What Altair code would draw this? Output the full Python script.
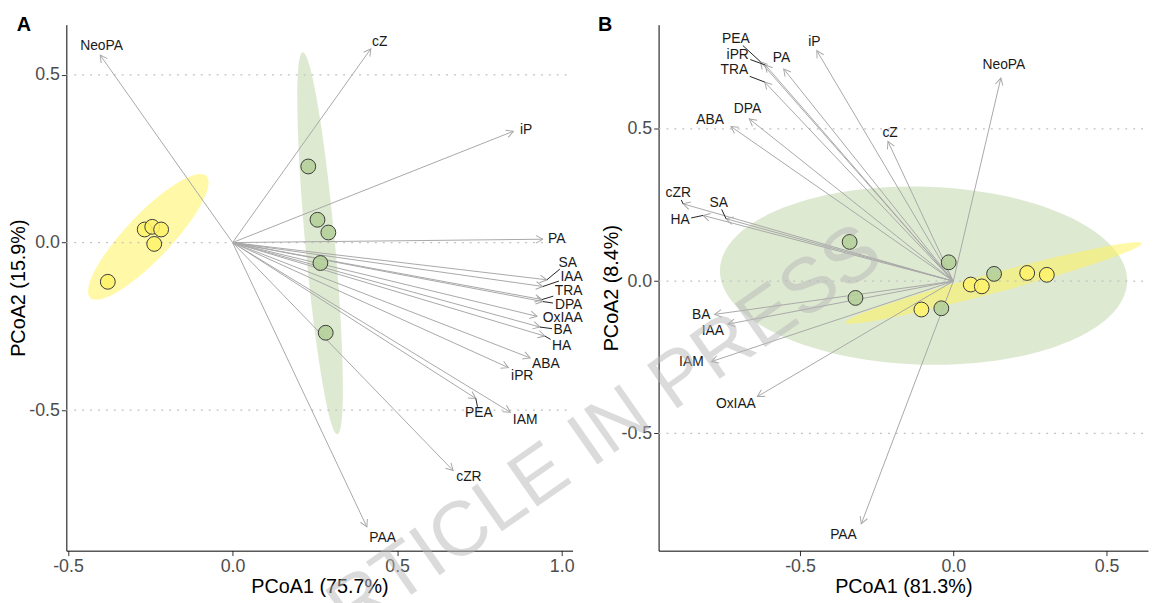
import math
import altair as alt
import pandas as pd

FONT = "Liberation Sans"

# ---------------- Panel A data ----------------
a_var = ["NeoPA", "cZ", "iP", "PA", "SA", "IAA", "TRA", "DPA", "OxIAA", "BA", "HA",
         "ABA", "iPR", "PEA", "IAM", "cZR", "PAA"]
a_tip_x = [-0.402, 0.420, 0.853, 0.943, 0.955, 0.943, 0.940, 0.943, 0.925, 0.934, 0.949,
           0.904, 0.838, 0.739, 0.844, 0.670, 0.408]
a_tip_y = [0.559, 0.578, 0.332, 0.010, -0.111, -0.131, -0.170, -0.176, -0.220, -0.252, -0.279,
           -0.344, -0.373, -0.465, -0.506, -0.680, -0.848]
a_lab_x = [-0.398, 0.447, 0.892, 0.985, 1.018, 1.030, 1.021, 1.021, 1.003, 1.003, 1.000,
           0.952, 0.880, 0.748, 0.889, 0.718, 0.456]
a_lab_y = [0.586, 0.597, 0.335, 0.010, -0.060, -0.102, -0.146, -0.187, -0.226, -0.261, -0.308,
           -0.361, -0.397, -0.509, -0.529, -0.698, -0.880]
a_leader = [0, 0, 0, 0, 1, 1, 1, 1, 0, 1, 1, 0, 0, 1, 0, 0, 0]

a_yellow_x = [-0.267, -0.244, -0.217, -0.238, -0.379]
a_yellow_y = [0.039, 0.047, 0.039, -0.004, -0.117]
a_green_x = [0.230, 0.258, 0.291, 0.267, 0.283]
a_green_y = [0.227, 0.068, 0.030, -0.061, -0.269]

# ellipse centres (data units)
a_ell_yellow = (-0.256, 0.017)
a_ell_green = (0.266, -0.002)

# ---------------- Panel B data ----------------
b_var = ["PEA", "iPR", "TRA", "PA", "iP", "DPA", "ABA", "NeoPA", "cZ", "cZR", "HA", "SA",
         "BA", "IAA", "IAM", "OxIAA", "PAA"]
b_tip_x = [-0.629, -0.613, -0.615, -0.553, -0.445, -0.665, -0.725, 0.155, -0.213, -0.881, -0.816,
           -0.741, -0.778, -0.735, -0.789, -0.639, -0.300]
b_tip_y = [0.721, 0.710, 0.654, 0.697, 0.757, 0.533, 0.508, 0.667, 0.459, 0.254, 0.216,
           0.205, -0.109, -0.141, -0.264, -0.379, -0.797]
b_lab_x = [-0.709, -0.703, -0.714, -0.560, -0.453, -0.671, -0.793, 0.165, -0.206, -0.897, -0.891,
           -0.765, -0.822, -0.784, -0.854, -0.709, -0.358]
b_lab_y = [0.795, 0.743, 0.692, 0.732, 0.787, 0.566, 0.528, 0.710, 0.485, 0.288, 0.200,
           0.257, -0.111, -0.163, -0.264, -0.404, -0.833]
b_leader = [1, 1, 1, 0, 0, 0, 0, 0, 0, 1, 1, 1, 0, 0, 0, 0, 0]

b_green_x = [-0.338, -0.015, 0.133, -0.319, -0.039]
b_green_y = [0.129, 0.062, 0.024, -0.055, -0.089]
b_yellow_x = [0.057, 0.093, 0.241, 0.305, -0.104]
b_yellow_y = [-0.011, -0.017, 0.027, 0.021, -0.093]

b_ell_green = (-0.097, 0.018)
b_ell_yellow = (0.132, -0.006)

grid_vals = [-0.5, 0.0, 0.5]
a_xticks = [-0.5, 0.0, 0.5, 1.0]
b_xticks = [-0.5, 0.0, 0.5]
yticks = [-0.5, 0.0, 0.5]
letters = ["A", "B"]
watermark = ["ARTICLE IN PRESS"]

# ---------------- styling / geometry ----------------
A_W, A_H = 512, 532
A_XD, A_YD = [-0.505, 1.033], [-0.919, 0.650]
B_W, B_H = 495, 532
B_XD, B_YD = [-0.961, 0.635], [-0.885, 0.8425]

YEL_PT, GRN_PT = "#FFF36B", "#B4CF98"
YEL_EL, GRN_EL = "#FFF44F", "#B5CE98"
ARROW = "#a8a8a8"
TXT = "#1a1a1a"

CW = {"A": .667, "B": .667, "C": .722, "D": .722, "E": .667, "H": .722, "I": .278,
      "M": .833, "N": .722, "O": .778, "P": .667, "R": .722, "S": .667, "T": .611,
      "Z": .611, "a": .556, "c": .5, "e": .556, "i": .222, "o": .556, "x": .5}


def text_w(s, size=14):
    return sum(CW.get(c, 0.6) for c in s) * size


def ellipse_path(k):
    K = 0.5523
    return (f"M -1 0 C -1 {-K*k:.4f} {-K:.4f} {-k:.4f} 0 {-k:.4f} "
            f"C {K:.4f} {-k:.4f} 1 {-K*k:.4f} 1 0 "
            f"C 1 {K*k:.4f} {K:.4f} {k:.4f} 0 {k:.4f} "
            f"C {-K:.4f} {k:.4f} -1 {K*k:.4f} -1 0 Z")


ARROW_HEAD = "M -1 -0.55 L 0 0 L -1 0.55"


def build_frames(var, tx, ty, lx, ly, lead, xd, yd, w, h):
    pxu = w / (xd[1] - xd[0])
    pyu = h / (yd[1] - yd[0])
    rows, leads = [], []
    for i, v in enumerate(var):
        ang = math.degrees(math.atan2(-ty[i] * pyu, tx[i] * pxu)) % 360
        rows.append(dict(var=v, ox=0.0, oy=0.0, x=tx[i], y=ty[i], lx=lx[i], ly=ly[i], ang=ang))
        if lead[i]:
            dx = (tx[i] - lx[i]) * pxu
            dy = (ty[i] - ly[i]) * pyu
            hw = text_w(v) / 2 + 1.5
            hh = 6.5
            t = min(hw / abs(dx) if dx else 1e9, hh / abs(dy) if dy else 1e9)
            if t < 1:
                leads.append(dict(x=lx[i] + t * (tx[i] - lx[i]), y=ly[i] + t * (ty[i] - ly[i]),
                                  x2=tx[i], y2=ty[i]))
    return pd.DataFrame(rows), pd.DataFrame(leads)


LABEL_EXPR = "datum.value < 0 ? '-' + format(-datum.value, '.1f') : format(datum.value, '.1f')"


def panel(xd, yd, w, h, xvals, xtitle, ytitle, ellipses, arrows, leads, pts, letter, letter_pos,
          wm=None):
    sx = alt.Scale(domain=xd, nice=False, zero=False)
    sy = alt.Scale(domain=yd, nice=False, zero=False)
    common = dict(labelFont=FONT, labelFontSize=18, labelColor="#4d4d4d", tickColor="#333333",
                  tickSize=5, labelPadding=2, domainColor="#000000", domainWidth=1,
                  titleFont=FONT, titleFontSize=20, titleFontWeight="normal", titleColor="#000000",
                  grid=False, labelFlush=False, labelOverlap=False, labelExpr=LABEL_EXPR,
                  titleBaseline="middle")
    ax_x = alt.Axis(values=xvals, title=xtitle, titleY=36, **common)
    ax_y = alt.Axis(values=yticks, title=ytitle, titleX=-48, **common)

    def X(f):
        return alt.X(f, type="quantitative", scale=sx, axis=ax_x)

    def Y(f):
        return alt.Y(f, type="quantitative", scale=sy, axis=ax_y)

    layers = []
    for (cx, cy), a, b, ang, col, op in ellipses:
        edf = pd.DataFrame({"x": [cx], "y": [cy]})
        layers.append(
            alt.Chart(edf).mark_point(shape=ellipse_path(b / a), filled=True, fill=col,
                                      fillOpacity=op, opacity=1, strokeWidth=0)
            .encode(x=X("x"), y=Y("y"), size=alt.value((2 * a) ** 2), angle=alt.value(ang)))

    gdf = pd.DataFrame({"y": grid_vals})
    layers.append(alt.Chart(gdf).mark_rule(color="#c2c2c2", strokeWidth=1.2, strokeDash=[2, 6])
                  .encode(y=Y("y"), x=alt.value(0), x2=alt.value(w)))

    layers.append(alt.Chart(arrows).mark_rule(color=ARROW, strokeWidth=1)
                  .encode(x=X("x"), y=Y("y"), x2="ox", y2="oy"))
    layers.append(alt.Chart(arrows).mark_point(shape=ARROW_HEAD, filled=False, color=ARROW,
                                               strokeWidth=1, opacity=1, size=196)
                  .encode(x=X("x"), y=Y("y"), angle=alt.Angle("ang:Q", scale=None)))

    layers.append(alt.Chart(pts).mark_circle(size=225, opacity=1, fillOpacity=0.88,
                                             stroke="#3a3a3a", strokeWidth=1)
                  .encode(x=X("x"), y=Y("y"),
                          fill=alt.Color("grp:N", scale=alt.Scale(domain=["yellow", "green"],
                                                                   range=[YEL_PT, GRN_PT]),
                                         legend=None)))

    if len(leads):
        layers.append(alt.Chart(leads).mark_rule(color="#222222", strokeWidth=1)
                      .encode(x=X("x"), y=Y("y"), x2="x2", y2="y2"))

    layers.append(alt.Chart(arrows).mark_text(font=FONT, fontSize=14, color=TXT)
                  .encode(x=X("lx"), y=Y("ly"), text="var:N"))

    ldf = pd.DataFrame({"t": [letter]})
    layers.append(alt.Chart(ldf).mark_text(font=FONT, fontSize=20, fontWeight="bold",
                                           color="#000000")
                  .encode(x=alt.value(letter_pos[0]), y=alt.value(letter_pos[1]), text="t:N"))

    if wm is not None:
        wdf = pd.DataFrame({"t": watermark})
        layers.append(alt.Chart(wdf).mark_text(font=FONT, fontSize=78, color="#b8b8b8",
                                               opacity=0.5)
                      .encode(x=alt.value(wm[0]), y=alt.value(wm[1]), angle=alt.value(wm[2]),
                              text="t:N"))

    return alt.layer(*layers).properties(width=w, height=h)


a_arrows, a_leads = build_frames(a_var, a_tip_x, a_tip_y, a_lab_x, a_lab_y, a_leader,
                                 A_XD, A_YD, A_W, A_H)
b_arrows, b_leads = build_frames(b_var, b_tip_x, b_tip_y, b_lab_x, b_lab_y, b_leader,
                                 B_XD, B_YD, B_W, B_H)

a_pts = pd.DataFrame({"x": a_yellow_x + a_green_x, "y": a_yellow_y + a_green_y,
                      "grp": ["yellow"] * len(a_yellow_x) + ["green"] * len(a_green_x)})
b_pts = pd.DataFrame({"x": b_green_x + b_yellow_x, "y": b_green_y + b_yellow_y,
                      "grp": ["green"] * len(b_green_x) + ["yellow"] * len(b_yellow_x)})

a_ells = [(a_ell_yellow, 85, 23, 313.6, YEL_EL, 0.5),
          (a_ell_green, 194, 15, 84.8, GRN_EL, 0.45)]
b_ells = [(b_ell_green, 206, 90, 1.7, GRN_EL, 0.45),
          (b_ell_yellow, 155, 10, 345.0, YEL_EL, 0.5)]

pa = panel(A_XD, A_YD, A_W, A_H, a_xticks, "PCoA1 (75.7%)", "PCoA2 (15.9%)",
           a_ells, a_arrows, a_leads, a_pts, letters[0], (-43, 0))
pb = panel(B_XD, B_YD, B_W, B_H, b_xticks, "PCoA1 (81.3%)", "PCoA2 (8.4%)",
           b_ells, b_arrows, b_leads, b_pts, letters[1], (-54, 0), wm=(-75, 426, 325))

chart = (alt.hconcat(pa, pb, spacing=87, bounds="flush")
         .properties(padding={"left": 1, "top": 3, "right": 0, "bottom": 0},
                     background="white")
         .configure_view(stroke=None))

chart.save("out.html", embed_options={"renderer": "svg", "actions": False})
